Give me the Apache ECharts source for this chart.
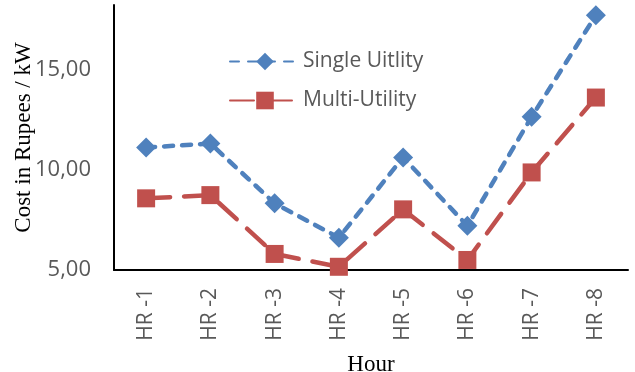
<!DOCTYPE html>
<html>
<head>
<meta charset="utf-8">
<title>Cost per kW by hour</title>
<script src="https://cdn.jsdelivr.net/npm/echarts@6/dist/echarts.min.js"></script>
<style>
  html, body { margin: 0; padding: 0; background: #fff; }
  #chart { width: 635px; height: 372px; }
</style>
</head>
<body>
<div id="chart"></div>
<script>
// Hourly cost per kW for the two supply schemes
const hours = ['HR -1', 'HR -2', 'HR -3', 'HR -4', 'HR -5', 'HR -6', 'HR -7', 'HR -8'];
const singleUtility = [11.10, 11.30, 8.32, 6.61, 10.61, 7.20, 12.63, 17.69];
const multiUtility = [8.57, 8.73, 5.80, 5.16, 8.02, 5.50, 9.86, 13.59];
const seriesNames = ['Single Uitlity', 'Multi-Utility'];

const yMin = 5;
const yMax = 18.2;
const yStep = 5;

const chart = echarts.init(document.getElementById('chart'), null, { renderer: 'canvas' });

const labelFont = 'Open Sans';
const titleFont = 'Liberation Serif';

chart.setOption({
  animation: false,
  backgroundColor: '#ffffff',
  grid: { left: 114, right: 7, top: 5, bottom: 102, containLabel: false, outerBoundsMode: 'none' },
  legend: {
    orient: 'vertical',
    left: 224,
    top: 46,
    itemWidth: 70,
    itemHeight: 22,
    itemGap: 18,
    textStyle: { color: '#595959', fontSize: 21, fontFamily: labelFont, padding: [0, 0, 0, -2] },
    data: seriesNames
  },
  xAxis: {
    type: 'category',
    data: hours,
    boundaryGap: true,
    name: 'Hour',
    nameLocation: 'middle',
    nameGap: 83,
    nameMoveOverlap: false,
    nameTextStyle: { color: '#000', fontSize: 23, fontFamily: titleFont },
    axisLine: { lineStyle: { color: '#000', width: 2 } },
    axisTick: { show: false },
    axisLabel: { rotate: 90, margin: 18, color: '#595959', fontSize: 21, fontFamily: labelFont },
    splitLine: { show: false }
  },
  yAxis: {
    type: 'value',
    min: yMin,
    max: yMax,
    interval: yStep,
    name: 'Cost in Rupees / kW',
    nameLocation: 'middle',
    nameGap: 79,
    nameMoveOverlap: false,
    nameTextStyle: { color: '#000', fontSize: 23, fontFamily: titleFont },
    axisLine: { show: true, lineStyle: { color: '#000', width: 2 } },
    axisTick: { show: false },
    splitLine: { show: false },
    axisLabel: {
      margin: 23,
      color: '#595959',
      fontSize: 22,
      fontFamily: labelFont,
      showMaxLabel: false,
      formatter: v => v.toFixed(2).replace('.', ',')
    }
  },
  series: [
    {
      name: seriesNames[0],
      type: 'line',
      data: singleUtility,
      symbol: 'diamond',
      symbolSize: 20,
      itemStyle: { color: '#4F81BD' },
      lineStyle: { color: '#4F81BD', width: 4.5, type: [9, 9], cap: 'round' },
      z: 3
    },
    {
      name: seriesNames[1],
      type: 'line',
      data: multiUtility,
      symbol: 'rect',
      symbolSize: 18,
      itemStyle: { color: '#C0504D' },
      lineStyle: { color: '#C0504D', width: 4.5, type: [24, 14], cap: 'round' },
      z: 4
    }
  ]
});
</script>
</body>
</html>
